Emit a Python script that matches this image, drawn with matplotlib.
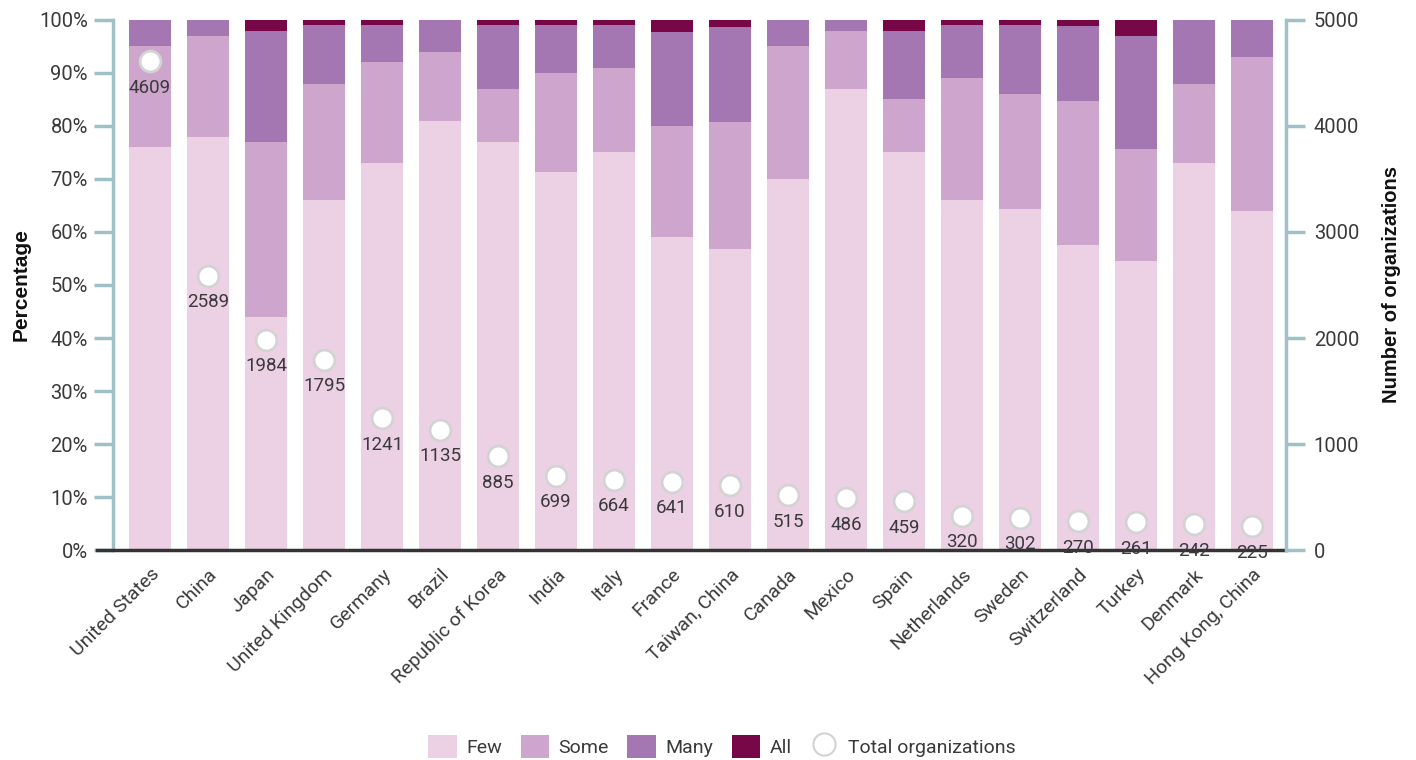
import matplotlib
matplotlib.use('Agg')
import matplotlib.pyplot as plt
import numpy as np
from matplotlib.patches import Patch
from matplotlib.lines import Line2D

plt.rcParams['font.family'] = ['Roboto', 'DejaVu Sans']

countries = ['United States', 'China', 'Japan', 'United Kingdom', 'Germany', 'Brazil',
             'Republic of Korea', 'India', 'Italy', 'France', 'Taiwan, China', 'Canada',
             'Mexico', 'Spain', 'Netherlands', 'Sweden', 'Switzerland', 'Turkey',
             'Denmark', 'Hong Kong, China']
few = [76, 78, 44, 66, 73, 81, 77, 71.3, 75, 59.1, 56.7, 70, 87, 75, 66, 64.4, 57.6, 54.6, 73, 64]
some = [19, 19, 33, 22, 19, 13, 10, 18.7, 16, 20.9, 24.1, 25, 11, 10, 23, 21.6, 27.1, 21.1, 15, 29]
many = [5, 3, 21, 11, 7, 6, 12, 9, 8, 17.8, 17.9, 5, 2, 13, 10, 13, 14.1, 21.3, 12, 7]
all_ = [0, 0, 2, 1, 1, 0, 1, 1, 1, 2.2, 1.3, 0, 0, 2, 1, 1, 1.2, 3, 0, 0]
totals = [4609, 2589, 1984, 1795, 1241, 1135, 885, 699, 664, 641, 610, 515, 486, 459,
          320, 302, 270, 261, 242, 225]

colors = ['#ecd1e5', '#cea5cd', '#a577b2', '#770746']
labels = ['Few', 'Some', 'Many', 'All']
axis_col = '#9fc0c6'
text_col = '#3a3a3a'
tick_fs = 14.5

fig = plt.figure(figsize=(14.16, 7.6), dpi=100)
ax = fig.add_axes([0.0798, 0.2763, 0.8284, 0.6974])
x = np.arange(len(countries))

bottom = np.zeros(len(countries))
for vals, c in zip([few, some, many, all_], colors):
    ax.bar(x, vals, 0.73, bottom=bottom, color=c, linewidth=0, zorder=2)
    bottom += np.array(vals)

ax.set_ylim(0, 100)
ax.set_xlim(-0.64, 19.59)
ax.set_yticks(range(0, 101, 10))
ax.set_yticklabels([f'{v}%' for v in range(0, 101, 10)])
ax.set_xticks(x)
ax.set_xticklabels(countries, rotation=45, ha='right', rotation_mode='anchor')
ax.tick_params(axis='y', colors=axis_col, width=2.5, length=14, labelcolor=text_col,
               labelsize=tick_fs, pad=4)
ax.tick_params(axis='x', length=0, labelcolor=text_col, labelsize=14, pad=11)
ax.set_ylabel('Percentage', fontsize=15, fontweight='bold', color='#111111', labelpad=6,
              family='Liberation Sans')

for s in ['top', 'right']:
    ax.spines[s].set_visible(False)
ax.spines['left'].set_color(axis_col)
ax.spines['left'].set_linewidth(2.5)
ax.spines['bottom'].set_color('#333333')
ax.spines['bottom'].set_linewidth(2.5)
ax.spines['bottom'].set_zorder(5)
ax.spines['bottom'].set_bounds(-0.92, 19.59)

ax2 = ax.twinx()
ax2.set_ylim(0, 5000)
ax2.set_yticks(range(0, 5001, 1000))
ax2.tick_params(axis='y', colors=axis_col, width=2.5, length=14, labelcolor=text_col,
                labelsize=tick_fs, pad=6)
for s in ['top', 'left', 'bottom']:
    ax2.spines[s].set_visible(False)
ax2.spines['right'].set_color(axis_col)
ax2.spines['right'].set_linewidth(2.5)
ax2.set_ylabel('Number of organizations', fontsize=14.5, fontweight='bold', color='#111111',
               labelpad=16, family='Liberation Sans')

ax2.plot(x, totals, linestyle='none', marker='o', markersize=15, markerfacecolor='white',
         markeredgecolor='#d3d3d3', markeredgewidth=2, zorder=4)
for xi, t in zip(x, totals):
    ax2.annotate(str(t), (xi, t), xytext=(0, -19), textcoords='offset points',
                 ha='center', va='center', fontsize=13.5, color=text_col)

handles = [Patch(facecolor=c, edgecolor='none') for c in colors]
handles.append(Line2D([], [], linestyle='none', marker='o', markersize=16,
                      markerfacecolor='white', markeredgecolor='#d3d3d3', markeredgewidth=1.5))
fig.legend(handles, labels + ['Total organizations'], loc='center', ncol=5,
           bbox_to_anchor=(0.51, 0.018), frameon=False, fontsize=14,
           handlelength=1.45, handleheight=1.45, columnspacing=0.95, handletextpad=0.5,
           labelcolor=text_col)

fig.savefig('out.png', dpi=100)
